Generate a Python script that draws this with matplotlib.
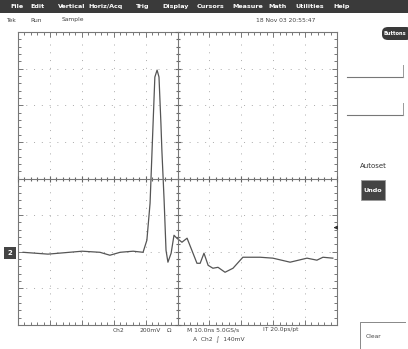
import matplotlib
matplotlib.use("Agg")
import matplotlib.pyplot as plt
from matplotlib.patches import Rectangle, FancyBboxPatch
from matplotlib.ticker import MultipleLocator
import numpy as np

# ---- data (time in ns, voltage in mV relative to Ch2 ground) ----
time_ns = [-48.4, -40.6, -29.9, -24.3, -21.2, -18.0, -13.9, -10.8, -9.6, -8.6,
           -7.7, -7.1, -6.4, -5.8, -5.2, -4.9, -4.2, -3.6, -3.0, -2.0,
           -1.1, -0.2, 1.4, 3.0, 4.5, 6.1, 7.1, 8.3, 9.6, 11.1,
           12.7, 14.9, 17.4, 20.5, 25.9, 29.9, 35.3, 40.6, 43.7, 45.6, 48.7]
volt_mV = [5, -5, 11, 5, -11, 5, 11, 5, 71, 273,
           688, 962, 1000, 962, 710, 563, 290, 16, -49, 0,
           98, 82, 60, 82, 16, -55, -55, 0, -66, -82,
           -77, -104, -82, -22, -22, -27, -49, -27, -38, -22, -27]
volts_per_div = 200.0      # mV/div
ns_per_div = 10.0
ground_div = -2.04         # Ch2 ground marker position (divisions)
trigger_mV = 140.0

menu_items = ["File", "Edit", "Vertical", "Horiz/Acq", "Trig", "Display",
              "Cursors", "Measure", "Math", "Utilities", "Help"]
menu_x = [10, 30, 58, 88, 136, 162, 197, 232, 268, 295, 333]

W, H = 408, 349
fig = plt.figure(figsize=(W / 100, H / 100), dpi=100)
fig.patch.set_facecolor("white")

def fx(px):
    return px / W

def fy(py):
    return 1 - py / H

# ---- graticule axes ----
gl, gt, gr, gb = 18, 32, 337, 325
pos = [fx(gl), fy(gb), (gr - gl) / W, (gb - gt) / H]
ax = fig.add_axes(pos)
ax.set_xlim(-5 * ns_per_div, 5 * ns_per_div)
ax.set_ylim(-4, 4)
for s in ax.spines.values():
    s.set_color("#777777")
    s.set_linewidth(0.8)
ax.xaxis.set_major_locator(MultipleLocator(ns_per_div))
ax.xaxis.set_minor_locator(MultipleLocator(ns_per_div / 5))
ax.yaxis.set_major_locator(MultipleLocator(1))
ax.yaxis.set_minor_locator(MultipleLocator(0.2))
ax.tick_params(which="both", direction="in", top=True, right=True,
               labelbottom=False, labelleft=False, color="#777777", width=0.7)
ax.tick_params(which="major", length=3.5)
ax.tick_params(which="minor", length=2)
ax.grid(True, which="major", color="#aaaaaa", linewidth=0.7,
        linestyle=(0, (1, 7)))

# center crosshair with ticks
ax2 = fig.add_axes(pos, sharex=ax, sharey=ax)
ax2.patch.set_alpha(0)
ax2.spines["top"].set_visible(False)
ax2.spines["right"].set_visible(False)
ax2.spines["left"].set_position(("data", 0))
ax2.spines["bottom"].set_position(("data", 0))
for k in ("left", "bottom"):
    ax2.spines[k].set_color("#777777")
    ax2.spines[k].set_linewidth(0.8)
ax2.tick_params(which="both", direction="inout", labelbottom=False,
                labelleft=False, color="#666666", width=0.8)
ax2.tick_params(which="major", length=5)
ax2.tick_params(which="minor", length=3.5)

# trace
t = np.array(time_ns)
y = np.array(volt_mV) / volts_per_div + ground_div
ax2.plot(t, y, color="#555555", linewidth=0.9, solid_joinstyle="round")

# trigger level marker (right edge)
ax2.annotate("", xy=(48.0, trigger_mV / volts_per_div + ground_div),
             xytext=(50.5, trigger_mV / volts_per_div + ground_div),
             arrowprops=dict(arrowstyle="-|>", color="#333333", lw=0.8,
                             mutation_scale=5), annotation_clip=False)

# ground marker (left)
gy = fy(253)
fig.patches.append(Rectangle((fx(4), gy - 6 / H), 12 / W, 12 / H,
                             transform=fig.transFigure, facecolor="#444444",
                             edgecolor="none"))
fig.text(fx(10), gy, "2", color="white", fontsize=5, ha="center",
         va="center", fontweight="bold")

# ---- menu bar ----
fig.patches.append(Rectangle((0, fy(13)), 1, 13 / H, transform=fig.transFigure,
                             facecolor="#3a3a3a", edgecolor="none"))
for name, xp in zip(menu_items, menu_x):
    fig.text(fx(xp), fy(6.5), name, color="white", fontsize=4.6,
             fontweight="bold", va="center", ha="left")

# status row
small = dict(fontsize=4.3, color="#444444", va="center", ha="left")
fig.text(fx(6), fy(20), "Tek", **small)
fig.text(fx(30), fy(20), "Run", **small)
fig.text(fx(62), fy(20), "Sample", **small)
fig.text(fx(256), fy(20), "18 Nov 03 20:55:47", **small)

# Buttons badge
fig.patches.append(FancyBboxPatch((fx(382), fy(40)), 30 / W, 13 / H,
                                  boxstyle="round,pad=0,rounding_size=0.015",
                                  transform=fig.transFigure,
                                  facecolor="#3a3a3a", edgecolor="none"))
fig.text(fx(384), fy(33.5), "Buttons", color="white", fontsize=3.7,
         va="center", ha="left", fontweight="bold")

# right panel lines
for ly in (77, 115):
    fig.lines.append(plt.Line2D([fx(347), fx(403)], [fy(ly), fy(ly)],
                                transform=fig.transFigure, color="#777777",
                                linewidth=0.8))
    fig.lines.append(plt.Line2D([fx(403), fx(403)], [fy(ly), fy(ly - 12)],
                                transform=fig.transFigure, color="#999999",
                                linewidth=0.7))

fig.text(fx(373), fy(166), "Autoset", fontsize=5, color="#333333",
         ha="center", va="center")
fig.patches.append(Rectangle((fx(361), fy(200)), 24 / W, 20 / H,
                             transform=fig.transFigure, facecolor="#444444",
                             edgecolor="#999999", linewidth=0.6))
fig.text(fx(373), fy(190), "Undo", fontsize=4.6, color="white",
         ha="center", va="center", fontweight="bold")

# bottom readouts
bt = dict(fontsize=4.3, color="#444444", va="center", ha="left")
fig.text(fx(113), fy(330), "Ch2", **bt)
fig.text(fx(140), fy(330), "200mV", **bt)
fig.text(fx(167), fy(330), "Ω", **bt)
fig.text(fx(187), fy(330), "M 10.0ns 5.0GS/s", **bt)
fig.text(fx(263), fy(330), "IT 20.0ps/pt", **bt)
fig.text(fx(193), fy(340), "A  Ch2  ∫  140mV", **bt)

# Clear box
fig.lines.append(plt.Line2D([fx(360), fx(360), fx(405)],
                            [fy(349), fy(322), fy(322)],
                            transform=fig.transFigure, color="#888888",
                            linewidth=0.7))
fig.text(fx(366), fy(337), "Clear", fontsize=4.3, color="#444444",
         ha="left", va="center")

fig.savefig("out.png", dpi=100, facecolor="white")
